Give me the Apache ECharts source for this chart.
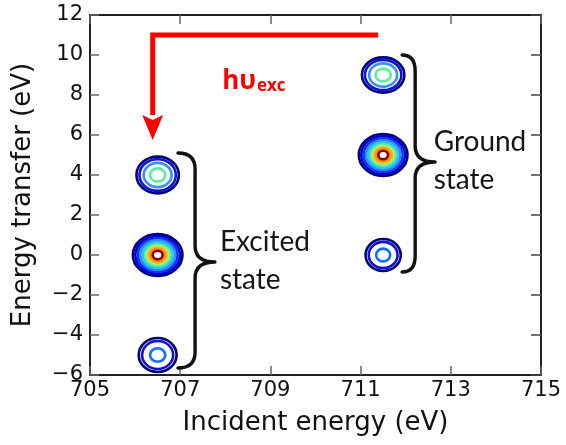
<!DOCTYPE html>
<html>
<head>
<meta charset="utf-8">
<script src="https://cdn.jsdelivr.net/npm/echarts@6/dist/echarts.min.js"></script>
<style>
html,body{margin:0;padding:0;background:#fff;}
#chart{width:566px;height:445px;}
</style>
</head>
<body>
<div id="chart"></div>
<script>
// ---- data ----
const xTicks = [705, 707, 709, 711, 713, 715];
const yTicks = [-6, -4, -2, 0, 2, 4, 6, 8, 10, 12];
// peak centres (incident energy, energy transfer) and half-widths (eV)
const peakX = [706.5, 706.5, 706.5, 711.5, 711.5, 711.5];
const peakY = [4, 0, -5, 9, 5, 0];
const peakRx = [0.47, 0.55, 0.42, 0.47, 0.54, 0.39];
const peakRy = [0.92, 1.05, 0.85, 0.88, 1.05, 0.80];
const peakLevel = ['mid', 'strong', 'weak', 'mid', 'strong', 'weak'];
// excitation arrow path (eV, eV)
const arrowX = [711.39, 706.39, 706.39];
const arrowY = [11, 11, 7.0];
const arrowTip = [706.39, 5.75];
const arrowLabelPos = [707.93, 8.65];
// braces: hook x, spine x, tip x, top y, bottom y, tip y
const braceHookX = [706.95, 711.92];
const braceSpineX = [707.33, 712.21];
const braceTipX = [707.77, 712.65];
const braceTopY = [5.1, 10.0];
const braceBottomY = [-5.65, -0.85];
const braceMidY = [-0.35, 4.65];
const braceLabelX = [707.88, 712.62];
const braceLabels = ['Excited\nstate', 'Ground\nstate'];

// contour level styles (fraction of outer radius, colour)
const levelStyles = {
  strong: [[1.0,'#00007a'],[0.9,'#0000d0'],[0.8,'#1030ff'],[0.7,'#2a8cff'],[0.6,'#28c8f0'],[0.5,'#50f0a8'],[0.43,'#b8f060'],[0.36,'#ffb020'],[0.29,'#ff9000'],[0.2,'#8a0000']],
  mid: [[1.0,'#00007a'],[0.86,'#1010d8'],[0.66,'#3a90ff'],[0.36,'#5af0a0']],
  weak: [[1.0,'#00007a'],[0.82,'#1010d8'],[0.4,'#1070ff']]
};

const rings = [];
for (let p = 0; p < peakX.length; p++) {
  levelStyles[peakLevel[p]].forEach(function (lv) {
    rings.push([peakX[p], peakY[p], peakRx[p] * lv[0], peakRy[p] * lv[0], lv[1]]);
  });
}

const chart = echarts.init(document.getElementById('chart'), null, {renderer: 'canvas'});
const tickFont = 'DejaVu Sans';
const fmtY = v => (v < 0 ? '\u2212' + Math.abs(v) : String(v));

chart.setOption({
  animation: false,
  backgroundColor: '#ffffff',
  grid: {left: 90, right: 25, top: 15, bottom: 70, containLabel: false},
  xAxis: [{
    type: 'value', min: xTicks[0], max: xTicks[xTicks.length - 1], interval: 2,
    name: 'Incident energy (eV)', nameLocation: 'middle', nameGap: 35,
    nameTextStyle: {fontFamily: tickFont, fontSize: 26, color: '#111'},
    axisLine: {show: true, onZero: false, lineStyle: {color: '#222', width: 2}},
    axisTick: {show: true, inside: true, length: 9, lineStyle: {color: '#666', width: 1.5}},
    axisLabel: {fontFamily: tickFont, fontSize: 21, color: '#111', margin: 5},
    splitLine: {show: false}
  }, {
    type: 'value', position: 'top', min: xTicks[0], max: xTicks[xTicks.length - 1], interval: 2,
    axisLine: {show: true, onZero: false, lineStyle: {color: '#222', width: 2}},
    axisTick: {show: true, inside: true, length: 9, lineStyle: {color: '#666', width: 1.5}},
    axisLabel: {show: false}, splitLine: {show: false}
  }],
  yAxis: [{
    type: 'value', min: yTicks[0], max: yTicks[yTicks.length - 1], interval: 2,
    name: 'Energy transfer (eV)', nameLocation: 'middle', nameGap: 54,
    nameTextStyle: {fontFamily: tickFont, fontSize: 26, color: '#111'},
    axisLine: {show: true, onZero: false, lineStyle: {color: '#222', width: 2}},
    axisTick: {show: true, inside: true, length: 9, lineStyle: {color: '#666', width: 1.5}},
    axisLabel: {fontFamily: tickFont, fontSize: 21, color: '#111', margin: 7, formatter: fmtY},
    splitLine: {show: false}
  }, {
    type: 'value', position: 'right', min: yTicks[0], max: yTicks[yTicks.length - 1], interval: 2,
    axisLine: {show: true, onZero: false, lineStyle: {color: '#222', width: 2}},
    axisTick: {show: true, inside: true, length: 10, lineStyle: {color: '#444', width: 1.5}},
    axisLabel: {show: false}, splitLine: {show: false}
  }],
  series: [{
    // contour rings
    type: 'custom', xAxisIndex: 0, yAxisIndex: 0, clip: true,
    data: rings.map(r => [r[0], r[1]]),
    renderItem: function (params, api) {
      const r = rings[params.dataIndex];
      const c = api.coord([r[0], r[1]]);
      const rx = api.size([r[2], 0])[0];
      const ry = api.size([0, r[3]])[1];
      const d = 'M' + (c[0] - rx) + ' ' + c[1] +
        ' A' + rx + ' ' + ry + ' 0 1 0 ' + (c[0] + rx) + ' ' + c[1] +
        ' A' + rx + ' ' + ry + ' 0 1 0 ' + (c[0] - rx) + ' ' + c[1] + ' Z';
      return {type: 'path', shape: {pathData: d}, style: {fill: 'none', stroke: r[4], lineWidth: 2.6}};
    }
  }, {
    // braces and their labels
    type: 'custom', xAxisIndex: 0, yAxisIndex: 0, clip: false,
    data: braceTipX.map((x, i) => [x, braceMidY[i]]),
    renderItem: function (params, api) {
      const i = params.dataIndex;
      const h = api.coord([braceHookX[i], braceTopY[i]]);
      const s = api.coord([braceSpineX[i], braceTopY[i]]);
      const b = api.coord([braceSpineX[i], braceBottomY[i]]);
      const t = api.coord([braceTipX[i], braceMidY[i]]);
      const lx = api.coord([braceLabelX[i], braceMidY[i]])[0];
      const hx = h[0], sx = s[0], top = s[1], bot = b[1], tx = t[0], ty = t[1];
      const r = 16;
      const d = 'M' + hx + ' ' + top +
        ' Q' + sx + ' ' + top + ' ' + sx + ' ' + (top + r) +
        ' L' + sx + ' ' + (ty - r) +
        ' Q' + sx + ' ' + ty + ' ' + tx + ' ' + ty +
        ' Q' + sx + ' ' + ty + ' ' + sx + ' ' + (ty + r) +
        ' L' + sx + ' ' + (bot - r) +
        ' Q' + sx + ' ' + bot + ' ' + hx + ' ' + bot;
      return {
        type: 'group',
        children: [{
          type: 'path', shape: {pathData: d},
          style: {fill: 'none', stroke: '#111', lineWidth: 3.4, lineCap: 'round', lineJoin: 'round'}
        }, {
          type: 'text', x: lx, y: ty - 1,
          style: {
            text: braceLabels[i], fontFamily: 'Lato', fontSize: 28, fill: '#151515',
            lineHeight: 38, verticalAlign: 'middle', align: 'left'
          }
        }]
      };
    }
  }, {
    // excitation arrow
    type: 'custom', xAxisIndex: 0, yAxisIndex: 0, clip: false,
    data: [[arrowTip[0], arrowTip[1]]],
    renderItem: function (params, api) {
      const pts = arrowX.map((x, i) => api.coord([x, arrowY[i]]));
      const tip = api.coord(arrowTip);
      const base = pts[pts.length - 1];
      const hw = 10.5;
      const lbl = api.coord(arrowLabelPos);
      return {
        type: 'group',
        children: [{
          type: 'polyline', shape: {points: pts.map(p => [p[0], p[1]])},
          style: {fill: 'none', stroke: '#ff0000', lineWidth: 5, lineJoin: 'miter'}
        }, {
          type: 'polygon',
          shape: {points: [[base[0] - hw, base[1]], [base[0], base[1] + 5], [base[0] + hw, base[1]], [tip[0], tip[1]]]},
          style: {fill: '#ff0000'}
        }, {
          type: 'text', x: lbl[0], y: lbl[1],
          style: {
            text: '{a|h\u03C5}{b|exc}',
            rich: {
              a: {fontFamily: 'Open Sans', fontWeight: 'bold', fontSize: 26, fill: '#ff0000', verticalAlign: 'bottom'},
              b: {fontFamily: 'Open Sans', fontWeight: 'bold', fontSize: 17, fill: '#ff0000', verticalAlign: 'bottom', padding: [0, 0, 0, 1]}
            },
            verticalAlign: 'middle', align: 'left'
          }
        }]
      };
    }
  }]
});
</script>
</body>
</html>
